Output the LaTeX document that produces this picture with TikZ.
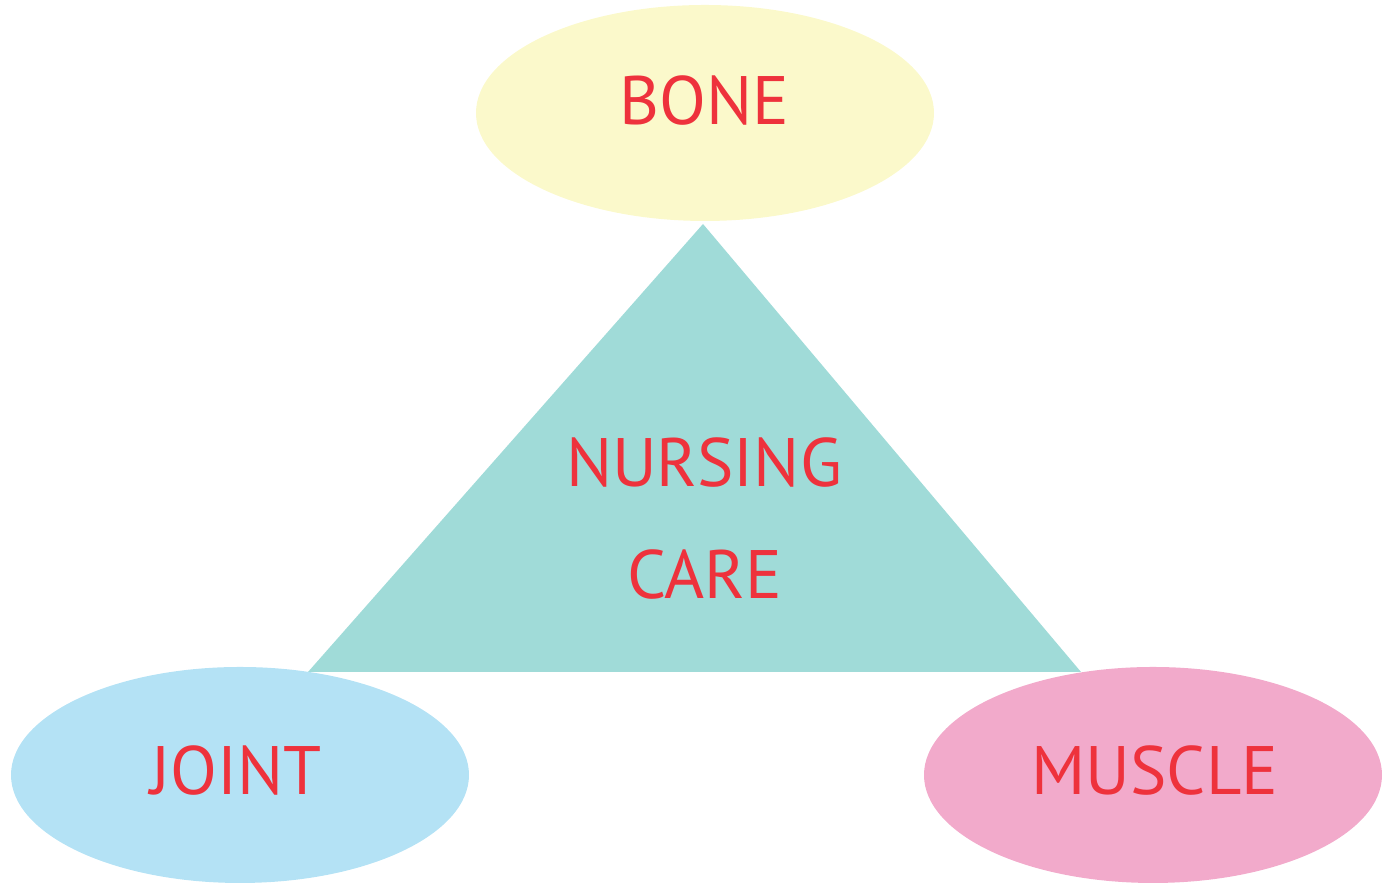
\documentclass[tikz,border=0pt]{standalone}
\usepackage{fontspec}
\setmainfont{PT Sans}
\usetikzlibrary{shapes.geometric}
\definecolor{boneyellow}{RGB}{251,249,203}
\definecolor{careteal}{RGB}{160,219,216}
\definecolor{jointblue}{RGB}{180,226,245}
\definecolor{musclepink}{RGB}{242,170,203}
\definecolor{wordred}{RGB}{238,50,60}
\tikzset{
    part/.style={ellipse, minimum width=4.58cm, minimum height=2.16cm, inner sep=0pt},
    word/.style={text=wordred, font=\fontsize{19.5}{22}\selectfont, text height=13.7pt, text depth=0pt, inner sep=0pt}
}
\begin{document}
\begin{tikzpicture}
        \useasboundingbox (0, 0) rectangle (13.93, 8.87);
        \coordinate (top) at (7.03, 6.63);
        \coordinate (left) at (3.08, 2.15);
        \coordinate (right) at (10.81, 2.15);
        \fill[careteal] (top) -- (left) -- (right) -- cycle;
        \node[part, fill=boneyellow] (bone) at (7.05, 7.74) {};
        \node[part, fill=jointblue] (joint) at (2.40, 1.12) {};
        \node[part, fill=musclepink] (muscle) at (11.53, 1.12) {};
        \node[word] (bonetext) at (7.04, 7.87) {BONE};
        \node[word] (jointtext) at (2.36, 1.17) {JOINT};
        \node[word] (muscletext) at (11.55, 1.17) {MUSCLE};
        \node[word] (nursing) at (7.04, 4.25) {NURSING};
        \node[word] (care) at (7.05, 3.13) {CARE};
    \end{tikzpicture}
\end{document}
